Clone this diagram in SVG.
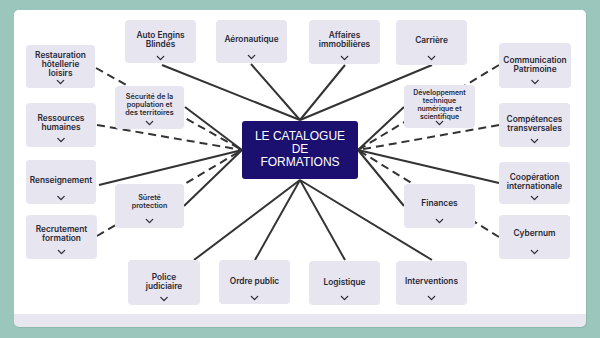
<svg xmlns="http://www.w3.org/2000/svg" xmlns:xlink="http://www.w3.org/1999/xlink" width="600" height="338" viewBox="0 0 600 338">
<style>
.node rect{fill:#e6e5f0}
.node text{font-family:Inter,"Liberation Sans",sans-serif;font-weight:600;font-size:8.3px;fill:#2a2a36;text-anchor:middle}
.node text.s{font-size:7.2px}
.node text.xs{font-size:6.9px}
.conn line{stroke:#333;stroke-width:2;stroke-linecap:butt}
.conn line.d{stroke-dasharray:8 5}
.chev{fill:none;stroke:#2a2a36;stroke-width:1.3;stroke-linecap:round;stroke-linejoin:round}
.hub text{font-family:"Liberation Sans",Arial,sans-serif;font-size:12px;fill:#fff;text-anchor:middle}
</style>
<defs>
<path id="chev" class="chev" d="M-3.2,-1.6 L0,1.6 L3.2,-1.6"/>
</defs>
<rect x="0" y="0" width="600" height="338" fill="#9ac6bb"/>
<rect x="15" y="12" width="572" height="316" rx="5" fill="#7fa89d" opacity="0.5"/>
<rect x="14" y="10" width="572" height="317" rx="5" fill="#e8e7f0"/>
<path d="M19,10 H581 A5,5 0 0 1 586,15 V314 H14 V15 A5,5 0 0 1 19,10 Z" fill="#fff"/>

<g id="connectors" class="conn">
<line x1="162" y1="65" x2="300" y2="120"/>
<line x1="251" y1="64" x2="300" y2="120"/>
<line x1="345" y1="65" x2="300" y2="120"/>
<line x1="432" y1="65" x2="300" y2="120"/>
<line x1="99" y1="185" x2="242" y2="150"/>
<line x1="185" y1="107" x2="242" y2="150"/>
<line x1="184" y1="206" x2="242" y2="150"/>
<line x1="194" y1="260" x2="300" y2="180"/>
<line x1="255" y1="260" x2="300" y2="180"/>
<line x1="345" y1="260" x2="300" y2="180"/>
<line x1="432" y1="260" x2="300" y2="180"/>
<line x1="404" y1="107" x2="358" y2="150"/>
<line x1="499" y1="183" x2="358" y2="150"/>
<line x1="404" y1="206" x2="358" y2="150"/>
<line class="d" x1="96" y1="68" x2="242" y2="150"/>
<line class="d" x1="97" y1="125" x2="242" y2="150"/>
<line class="d" x1="97" y1="236" x2="242" y2="150"/>
<line class="d" x1="499" y1="65" x2="358" y2="150"/>
<line class="d" x1="499" y1="125" x2="358" y2="150"/>
<line class="d" x1="499" y1="237" x2="358" y2="150"/>
</g>

<g id="hub" class="hub">
<rect x="242" y="121" width="116" height="58" rx="3" fill="#1b1070"/>
<text x="300" y="140">LE CATALOGUE</text>
<text x="300" y="153">DE</text>
<text x="300" y="166">FORMATIONS</text>
</g>

<g id="auto-engins" class="node"><rect x="125" y="20" width="71" height="43" rx="4"/><text x="160.5" y="38">Auto Engins</text><text x="160.5" y="47">Blindés</text><use xlink:href="#chev" x="160.5" y="58"/></g>
<g id="aeronautique" class="node"><rect x="216" y="20" width="71" height="43" rx="4"/><text x="251.5" y="42">Aéronautique</text><use xlink:href="#chev" x="251.5" y="57"/></g>
<g id="affaires" class="node"><rect x="309" y="20" width="71" height="44" rx="4"/><text x="344.5" y="38">Affaires</text><text x="344.5" y="47">immobilières</text><use xlink:href="#chev" x="344.5" y="58"/></g>
<g id="carriere" class="node"><rect x="396" y="20" width="71" height="45" rx="4"/><text x="431.5" y="43">Carrière</text><use xlink:href="#chev" x="431.5" y="58"/></g>

<g id="restauration" class="node"><rect x="26" y="45" width="69" height="43" rx="4"/><text x="60.5" y="58">Restauration</text><text x="60.5" y="67">hôtellerie</text><text x="60.5" y="76">loisirs</text><use xlink:href="#chev" x="60.5" y="82"/></g>
<g id="ressources" class="node"><rect x="26" y="103" width="70" height="44" rx="4"/><text x="61" y="121">Ressources</text><text x="61" y="130">humaines</text><use xlink:href="#chev" x="61" y="140"/></g>
<g id="renseignement" class="node"><rect x="26" y="160" width="70" height="44" rx="4"/><text x="61" y="183">Renseignement</text><use xlink:href="#chev" x="61" y="198"/></g>
<g id="recrutement" class="node"><rect x="26" y="215" width="71" height="44" rx="4"/><text x="61.5" y="232">Recrutement</text><text x="61.5" y="241">formation</text><use xlink:href="#chev" x="61.5" y="252"/></g>

<g id="securite" class="node"><rect x="115" y="86" width="69" height="43" rx="4"/><text class="s" x="149.5" y="98.5">Sécurité de la</text><text class="s" x="149.5" y="106.5">population et</text><text class="s" x="149.5" y="114.5">des territoires</text><use xlink:href="#chev" x="149.5" y="123"/></g>
<g id="surete" class="node"><rect x="115" y="184" width="69" height="44" rx="4"/><text class="s" x="149.5" y="199.5">Sûreté</text><text class="s" x="149.5" y="207.5">protection</text><use xlink:href="#chev" x="149.5" y="221"/></g>

<g id="developpement" class="node"><rect x="404" y="85" width="71" height="43" rx="4"/><text class="xs" x="439.5" y="94.5">Développement</text><text class="xs" x="439.5" y="102.5">technique</text><text class="xs" x="439.5" y="110.5">numérique et</text><text class="xs" x="439.5" y="118.5">scientifique</text><use xlink:href="#chev" x="439.5" y="123"/></g>
<g id="finances" class="node"><rect x="404" y="184" width="71" height="44" rx="4"/><text x="439.5" y="206">Finances</text><use xlink:href="#chev" x="439.5" y="221"/></g>

<g id="communication" class="node"><rect x="499" y="43" width="72" height="45" rx="4"/><text x="535" y="63">Communication</text><text x="535" y="72">Patrimoine</text><use xlink:href="#chev" x="535" y="82"/></g>
<g id="competences" class="node"><rect x="499" y="103" width="71" height="44" rx="4"/><text x="534.5" y="122">Compétences</text><text x="534.5" y="131">transversales</text><use xlink:href="#chev" x="534.5" y="141"/></g>
<g id="cooperation" class="node"><rect x="499" y="162" width="71" height="42" rx="4"/><text x="534.5" y="180">Coopération</text><text x="534.5" y="189">internationale</text><use xlink:href="#chev" x="534.5" y="198"/></g>
<g id="cybernum" class="node"><rect x="499" y="215" width="71" height="44" rx="4"/><text x="534.5" y="236">Cybernum</text><use xlink:href="#chev" x="534.5" y="252"/></g>

<g id="police" class="node"><rect x="128" y="260" width="72" height="45" rx="4"/><text x="164" y="280">Police</text><text x="164" y="289">judiciaire</text><use xlink:href="#chev" x="164" y="299"/></g>
<g id="ordre" class="node"><rect x="219" y="260" width="71" height="44" rx="4"/><text x="254.5" y="284">Ordre public</text><use xlink:href="#chev" x="254.5" y="298"/></g>
<g id="logistique" class="node"><rect x="309" y="261" width="71" height="44" rx="4"/><text x="344.5" y="285">Logistique</text><use xlink:href="#chev" x="344.5" y="298"/></g>
<g id="interventions" class="node"><rect x="396" y="261" width="71" height="44" rx="4"/><text x="431.5" y="284">Interventions</text><use xlink:href="#chev" x="431.5" y="298"/></g>
</svg>
